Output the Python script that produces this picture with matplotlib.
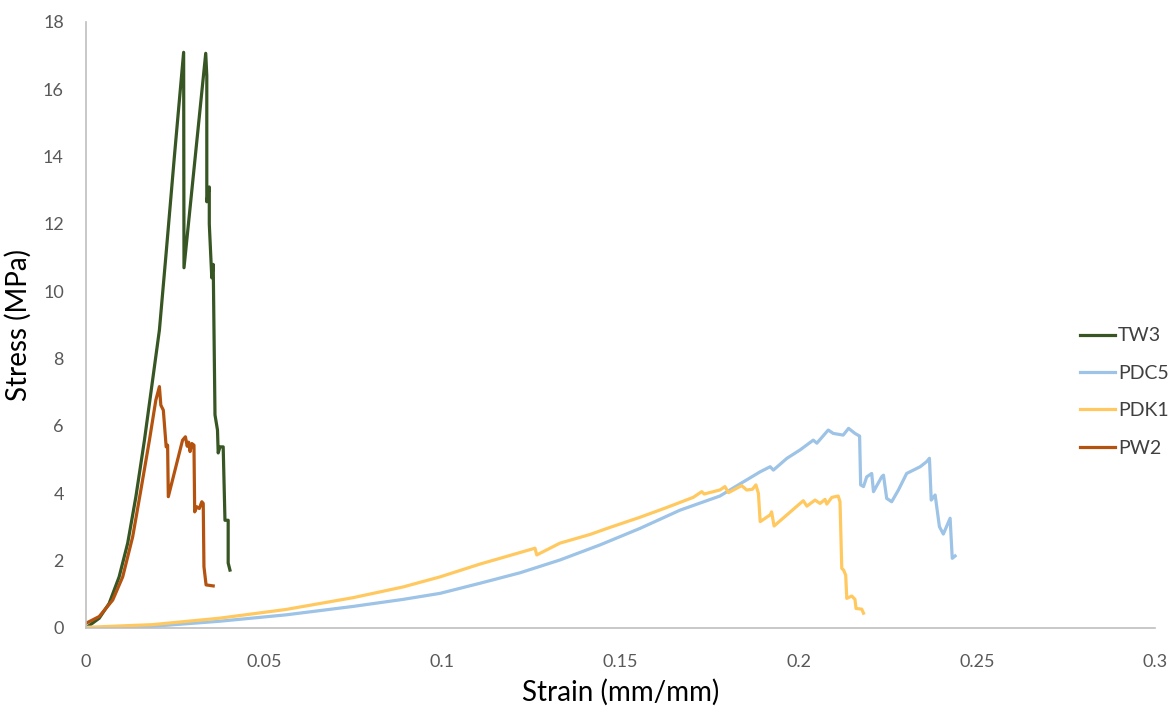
import matplotlib.pyplot as plt

plt.rcParams["font.family"] = ["Lato", "DejaVu Sans"]

# TW3
tw3_strain = [0.0005, 0.0037, 0.0065, 0.0093, 0.0117, 0.0140, 0.0164, 0.0187, 0.0206, 0.0225,
              0.0248, 0.0274, 0.0275, 0.0336, 0.0339, 0.0339, 0.0346, 0.0346, 0.0353, 0.0357,
              0.0362, 0.0369, 0.0371, 0.0376, 0.0385, 0.0390, 0.0399, 0.0399, 0.0404]
tw3_stress = [0.04, 0.29, 0.73, 1.52, 2.52, 3.90, 5.58, 7.37, 8.85, 11.15,
              14.0, 17.1, 10.7, 17.07, 16.4, 12.66, 13.1, 12.0, 10.4, 10.8,
              6.33, 5.88, 5.2, 5.38, 5.38, 3.2, 3.2, 1.93, 1.72]

# PDC5
pdc5_strain = [0.0, 0.0187, 0.0374, 0.0561, 0.0749, 0.089, 0.0994, 0.1106, 0.1218, 0.133,
               0.1443, 0.1555, 0.1667, 0.1779, 0.1807, 0.1892, 0.192, 0.1929, 0.1967, 0.2004,
               0.2041, 0.2051, 0.2083, 0.2097, 0.2125, 0.214, 0.2158, 0.2171, 0.2174, 0.2182,
               0.2191, 0.2205, 0.221, 0.2233, 0.2238, 0.2247, 0.2261, 0.228, 0.2303, 0.2322,
               0.2341, 0.2359, 0.2367, 0.2372, 0.2383, 0.2395, 0.2406, 0.2425, 0.2431, 0.2439]
pdc5_stress = [0.0, 0.05, 0.2, 0.39, 0.64, 0.85, 1.03, 1.33, 1.64, 2.02,
               2.47, 2.96, 3.50, 3.92, 4.10, 4.64, 4.79, 4.69, 5.04, 5.29,
               5.58, 5.49, 5.88, 5.78, 5.73, 5.93, 5.78, 5.70, 4.25, 4.20,
               4.49, 4.59, 4.05, 4.49, 4.54, 3.85, 3.75, 4.10, 4.59, 4.69,
               4.79, 4.94, 5.04, 3.80, 3.95, 3.01, 2.79, 3.26, 2.07, 2.14]

# PDK1
pdk1_strain = [0.0, 0.0187, 0.0374, 0.0561, 0.0749, 0.089, 0.0994, 0.1106, 0.1162, 0.126,
               0.1265, 0.133, 0.1415, 0.1471, 0.1555, 0.163, 0.1704, 0.1728, 0.1735, 0.1779,
               0.1793, 0.1803, 0.184, 0.1854, 0.187, 0.188, 0.1887, 0.1892, 0.192, 0.1924,
               0.1931, 0.1967, 0.2004, 0.2013, 0.2023, 0.2046, 0.206, 0.2074, 0.2079, 0.2093,
               0.2111, 0.2116, 0.2121, 0.2126, 0.2132, 0.2135, 0.2149, 0.2158, 0.2161, 0.2177,
               0.2182]
pdk1_stress = [0.02, 0.1, 0.29, 0.55, 0.9, 1.22, 1.52, 1.90, 2.07, 2.37,
               2.17, 2.52, 2.78, 2.99, 3.29, 3.58, 3.88, 4.05, 3.98, 4.10,
               4.20, 4.02, 4.23, 4.10, 4.12, 4.25, 4.0, 3.16, 3.36, 3.45,
               3.03, 3.36, 3.70, 3.78, 3.62, 3.80, 3.70, 3.82, 3.68, 3.88,
               3.92, 3.75, 1.77, 1.72, 1.57, 0.88, 0.95, 0.85, 0.58, 0.56,
               0.44]

# PW2
pw2_strain = [0.0, 0.0037, 0.0075, 0.0103, 0.0131, 0.0154, 0.0178, 0.0196, 0.0206, 0.0210,
              0.0217, 0.0225, 0.0229, 0.0231, 0.0271, 0.0279, 0.0284, 0.0288, 0.0292, 0.0297,
              0.0303, 0.0305, 0.0311, 0.0318, 0.0325, 0.0329, 0.0331, 0.0337, 0.0357]
pw2_stress = [0.14, 0.34, 0.83, 1.52, 2.71, 4.10, 5.58, 6.77, 7.17, 6.62,
              6.47, 5.38, 5.43, 3.9, 5.58, 5.68, 5.40, 5.52, 5.24, 5.48,
              5.43, 3.45, 3.6, 3.55, 3.75, 3.7, 1.82, 1.28, 1.25]

fig = plt.figure(figsize=(11.75, 7.06), dpi=100)
ax = fig.add_axes([86 / 1175, 1 - 628 / 706, (1155 - 86) / 1175, (628 - 22) / 706])

lw = 2.3
ax.plot(tw3_strain, tw3_stress, color="#375623", lw=lw, label="TW3")
ax.plot(pdc5_strain, pdc5_stress, color="#9DC3E6", lw=lw, label="PDC5")
ax.plot(pdk1_strain, pdk1_stress, color="#FFC960", lw=lw, label="PDK1")
ax.plot(pw2_strain, pw2_stress, color="#B4530F", lw=lw, label="PW2")

ax.set_xlim(0, 0.3)
ax.set_ylim(0, 18)
ax.set_xticks([0, 0.05, 0.1, 0.15, 0.2, 0.25, 0.3])
ax.set_xticklabels(["0", "0.05", "0.1", "0.15", "0.2", "0.25", "0.3"])
ax.set_yticks(range(0, 19, 2))
ax.tick_params(length=0, labelsize=13, labelcolor="#595959")
ax.tick_params(axis="x", pad=19)
ax.tick_params(axis="y", pad=16)

for s in ["top", "right"]:
    ax.spines[s].set_visible(False)
for s in ["left", "bottom"]:
    ax.spines[s].set_color("#BFBFBF")
    ax.spines[s].set_linewidth(1.2)

ax.set_xlabel("Strain (mm/mm)", fontsize=20, labelpad=6)
ax.set_ylabel("Stress (MPa)", fontsize=20, labelpad=8)

fig.legend(loc="center left", bbox_to_anchor=(1080 / 1175, 1 - 392 / 706), frameon=False,
           borderaxespad=0, borderpad=0, fontsize=14, handlelength=1.8, handletextpad=0.15,
           labelspacing=1.05, labelcolor="#404040")

fig.savefig("out.png", dpi=100)
